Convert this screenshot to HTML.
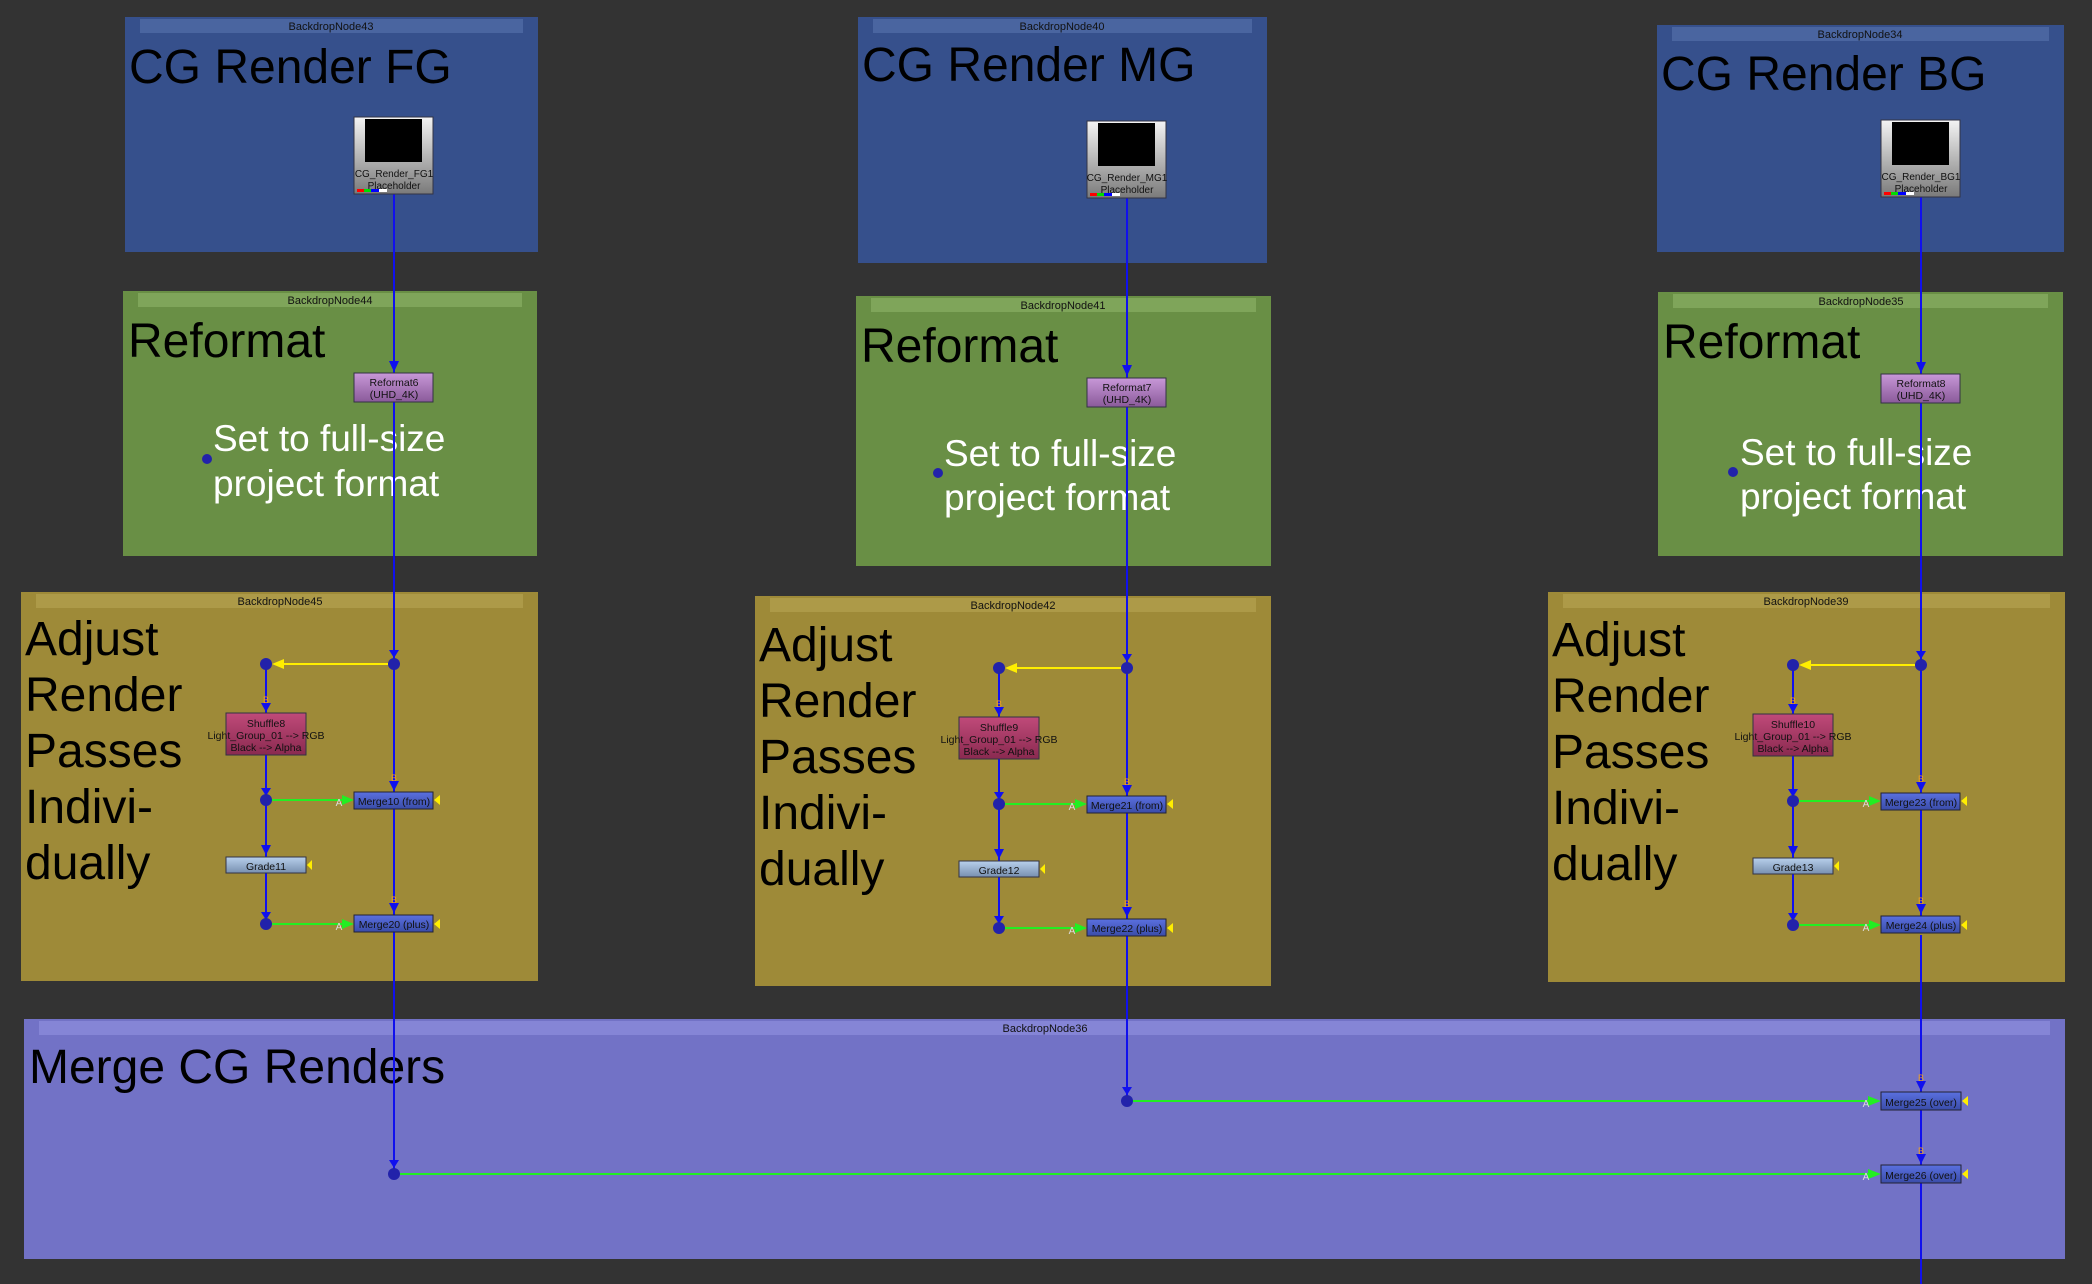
<!DOCTYPE html>
<html><head><meta charset="utf-8"><style>
html,body{margin:0;padding:0;background:#333333;}
svg{display:block;}
text{font-family:"Liberation Sans","DejaVu Sans",sans-serif;}
.hd{font-size:11px;fill:#111;text-anchor:middle;}
.big{font-size:48px;fill:#000;}
.wt{font-size:37px;fill:#fff;}
.nt{font-size:10.5px;fill:#111;text-anchor:middle;}
.bl{font-size:9px;fill:#f0a020;text-anchor:middle;}
.al{font-size:10px;fill:#ddd;text-anchor:middle;}
</style></head><body>
<svg width="2092" height="1284" viewBox="0 0 2092 1284" xmlns="http://www.w3.org/2000/svg">
<defs>
<linearGradient id="gRead" x1="0" y1="0" x2="0" y2="1"><stop offset="0" stop-color="#f4f4f4"/><stop offset="1" stop-color="#7a7a7a"/></linearGradient>
<linearGradient id="gRef" x1="0" y1="0" x2="0" y2="1"><stop offset="0" stop-color="#c898d8"/><stop offset="1" stop-color="#8a5a9a"/></linearGradient>
<linearGradient id="gShuf" x1="0" y1="0" x2="0" y2="1"><stop offset="0" stop-color="#c04a7a"/><stop offset="1" stop-color="#8a2a50"/></linearGradient>
<linearGradient id="gGrade" x1="0" y1="0" x2="0" y2="1"><stop offset="0" stop-color="#b8d0ec"/><stop offset="1" stop-color="#7890b0"/></linearGradient>
<linearGradient id="gMerge" x1="0" y1="0" x2="0" y2="1"><stop offset="0" stop-color="#5a70e0"/><stop offset="1" stop-color="#3a4ca8"/></linearGradient>
</defs>

<!-- Backdrops -->
<!-- col1 -->
<rect x="125" y="17" width="413" height="235" fill="#36508c"/><rect x="140" y="19" width="383" height="14" fill="#4a65a0"/><text class="hd" x="331" y="30">BackdropNode43</text>
<rect x="123" y="291" width="414" height="265" fill="#698f45"/><rect x="138" y="293" width="384" height="14" fill="#7fa55a"/><text class="hd" x="330" y="304">BackdropNode44</text>
<rect x="21" y="592" width="517" height="389" fill="#9e8a38"/><rect x="36" y="594" width="487" height="14" fill="#ad9a48"/><text class="hd" x="280" y="605">BackdropNode45</text>
<!-- col2 -->
<rect x="858" y="17" width="409" height="246" fill="#36508c"/><rect x="873" y="19" width="379" height="14" fill="#4a65a0"/><text class="hd" x="1062" y="30">BackdropNode40</text>
<rect x="856" y="296" width="415" height="270" fill="#698f45"/><rect x="871" y="298" width="385" height="14" fill="#7fa55a"/><text class="hd" x="1063" y="309">BackdropNode41</text>
<rect x="755" y="596" width="516" height="390" fill="#9e8a38"/><rect x="770" y="598" width="486" height="14" fill="#ad9a48"/><text class="hd" x="1013" y="609">BackdropNode42</text>
<!-- col3 -->
<rect x="1657" y="25" width="407" height="227" fill="#36508c"/><rect x="1672" y="27" width="377" height="14" fill="#4a65a0"/><text class="hd" x="1860" y="38">BackdropNode34</text>
<rect x="1658" y="292" width="405" height="264" fill="#698f45"/><rect x="1673" y="294" width="375" height="14" fill="#7fa55a"/><text class="hd" x="1861" y="305">BackdropNode35</text>
<rect x="1548" y="592" width="517" height="390" fill="#9e8a38"/><rect x="1563" y="594" width="487" height="14" fill="#ad9a48"/><text class="hd" x="1806" y="605">BackdropNode39</text>
<!-- merge backdrop -->
<rect x="24" y="1019" width="2041" height="240" fill="#7272c6"/><rect x="39" y="1021" width="2011" height="14" fill="#8585d6"/><text class="hd" x="1045" y="1032">BackdropNode36</text>

<!-- big titles -->
<text class="big" x="129" y="83">CG Render FG</text>
<text class="big" x="862" y="81">CG Render MG</text>
<text class="big" x="1661" y="90">CG Render BG</text>
<text class="big" x="128" y="357">Reformat</text>
<text class="big" x="861" y="362">Reformat</text>
<text class="big" x="1663" y="358">Reformat</text>
<text class="wt" x="213" y="451">Set to full-size</text><text class="wt" x="213" y="496">project format</text>
<text class="wt" x="944" y="466">Set to full-size</text><text class="wt" x="944" y="510">project format</text>
<text class="wt" x="1740" y="465">Set to full-size</text><text class="wt" x="1740" y="509">project format</text>
<circle cx="207" cy="459" r="5" fill="#2222aa"/>
<circle cx="938" cy="473" r="5" fill="#2222aa"/>
<circle cx="1733" cy="472" r="5" fill="#2222aa"/>
<g class="big">
<text class="big" x="25" y="655">Adjust</text><text class="big" x="25" y="711">Render</text><text class="big" x="25" y="767">Passes</text><text class="big" x="25" y="823">Indivi-</text><text class="big" x="25" y="879">dually</text>
<text class="big" x="759" y="661">Adjust</text><text class="big" x="759" y="717">Render</text><text class="big" x="759" y="773">Passes</text><text class="big" x="759" y="829">Indivi-</text><text class="big" x="759" y="885">dually</text>
<text class="big" x="1552" y="656">Adjust</text><text class="big" x="1552" y="712">Render</text><text class="big" x="1552" y="768">Passes</text><text class="big" x="1552" y="824">Indivi-</text><text class="big" x="1552" y="880">dually</text>
</g>
<text class="big" x="29" y="1083">Merge CG Renders</text>

<!-- bottom long connections -->
<line x1="394" y1="932" x2="394" y2="1174" stroke="#1010ee" stroke-width="2"/>
<line x1="1127" y1="936" x2="1127" y2="1101" stroke="#1010ee" stroke-width="2"/>
<polygon points="389,1160 399,1160 394,1168" fill="#1010ee"/>
<polygon points="1122,1087 1132,1087 1127,1095" fill="#1010ee"/>
<circle cx="394" cy="1174" r="6" fill="#2222aa"/>
<circle cx="1127" cy="1101" r="6" fill="#2222aa"/>
<line x1="400" y1="1174" x2="1870" y2="1174" stroke="#22ee22" stroke-width="2"/>
<line x1="1133" y1="1101" x2="1870" y2="1101" stroke="#22ee22" stroke-width="2"/>
<polygon points="1868,1169 1881,1174 1868,1179" fill="#22ee22"/>
<polygon points="1868,1096 1881,1101 1868,1106" fill="#22ee22"/>
<text class="al" x="1866" y="1107">A</text><text class="al" x="1866" y="1180">A</text>
<line x1="1921" y1="935" x2="1921" y2="1284" stroke="#1010ee" stroke-width="2"/>
<polygon points="1916,1081 1926,1081 1921,1091" fill="#1010ee"/><text class="bl" x="1921" y="1081">B</text>
<polygon points="1916,1154 1926,1154 1921,1164" fill="#1010ee"/><text class="bl" x="1921" y="1154">B</text>
<rect x="1881" y="1092" width="80" height="18" fill="url(#gMerge)" stroke="#223" stroke-width="1"/><text class="nt" x="1921" y="1106">Merge25 (over)</text>
<rect x="1881" y="1165" width="80" height="18" fill="url(#gMerge)" stroke="#223" stroke-width="1"/><text class="nt" x="1921" y="1179">Merge26 (over)</text>
<polygon points="1962,1101 1968,1096 1968,1106" fill="#ffee00"/>
<polygon points="1962,1174 1968,1169 1968,1179" fill="#ffee00"/>

<!-- column template -->
<g id="col1">
<line x1="394" y1="194" x2="394" y2="932" stroke="#1010ee" stroke-width="2"/>
<polygon points="389,361 399,361 394,372" fill="#1010ee"/>
<polygon points="389,650 399,650 394,658" fill="#1010ee"/>
<rect x="354" y="117" width="79" height="77" fill="url(#gRead)" stroke="#334" stroke-width="1"/>
<rect x="365" y="119" width="57" height="43" fill="#000"/>
<text class="nt" x="394" y="177" style="font-size:10px">CG_Render_FG1</text>
<text class="nt" x="394" y="189" style="font-size:10px">Placeholder</text>
<rect x="357" y="189" width="7" height="3" fill="#f00"/><rect x="364" y="189" width="7" height="3" fill="#0d0"/><rect x="371" y="189" width="8" height="3" fill="#00f"/><rect x="379" y="189" width="8" height="3" fill="#fff"/>
<rect x="354" y="373" width="79" height="29" fill="url(#gRef)" stroke="#334" stroke-width="1"/>
<text class="nt" x="394" y="386">Reformat6</text><text class="nt" x="394" y="398">(UHD_4K)</text>
<!-- adjust -->
<line x1="388" y1="664" x2="276" y2="664" stroke="#ffee00" stroke-width="2"/>
<polygon points="272,664 284,659 284,669" fill="#ffee00"/>
<line x1="266" y1="664" x2="266" y2="924" stroke="#1010ee" stroke-width="2"/>
<polygon points="261,703 271,703 266,712" fill="#1010ee"/><text class="bl" x="266" y="703">B</text>
<polygon points="261,788 271,788 266,796" fill="#1010ee"/>
<polygon points="261,845 271,845 266,855" fill="#1010ee"/>
<polygon points="261,912 271,912 266,920" fill="#1010ee"/>
<polygon points="389,781 399,781 394,791" fill="#1010ee"/><text class="bl" x="394" y="781">B</text>
<polygon points="389,903 399,903 394,913" fill="#1010ee"/><text class="bl" x="394" y="903">B</text>
<circle cx="266" cy="664" r="6" fill="#2222aa"/><circle cx="394" cy="664" r="6" fill="#2222aa"/>
<circle cx="266" cy="800" r="6" fill="#2222aa"/><circle cx="266" cy="924" r="6" fill="#2222aa"/>
<rect x="226" y="713" width="80" height="42" fill="url(#gShuf)" stroke="#334" stroke-width="1"/>
<text class="nt" x="266" y="727">Shuffle8</text>
<text class="nt" x="266" y="739">Light_Group_01 --&gt; RGB</text>
<text class="nt" x="266" y="751">Black --&gt; Alpha</text>
<rect x="226" y="857" width="80" height="16" fill="url(#gGrade)" stroke="#334" stroke-width="1"/><text class="nt" x="266" y="870">Grade11</text>
<polygon points="307,865 312,860 312,870" fill="#ffee00"/>
<line x1="272" y1="800" x2="344" y2="800" stroke="#22ee22" stroke-width="2"/><polygon points="342,795 354,800 342,805" fill="#22ee22"/><text class="al" x="339" y="806">A</text>
<line x1="272" y1="924" x2="344" y2="924" stroke="#22ee22" stroke-width="2"/><polygon points="342,919 354,924 342,929" fill="#22ee22"/><text class="al" x="339" y="930">A</text>
<rect x="354" y="792" width="79" height="17" fill="url(#gMerge)" stroke="#223" stroke-width="1"/><text class="nt" x="394" y="805">Merge10 (from)</text>
<rect x="354" y="915" width="79" height="17" fill="url(#gMerge)" stroke="#223" stroke-width="1"/><text class="nt" x="394" y="928">Merge20 (plus)</text>
<polygon points="434,800 440,795 440,805" fill="#ffee00"/>
<polygon points="434,924 440,919 440,929" fill="#ffee00"/>
</g>

<!-- col2 -->
<g transform="translate(733,4)">
<line x1="394" y1="194" x2="394" y2="932" stroke="#1010ee" stroke-width="2"/>
<polygon points="389,361 399,361 394,372" fill="#1010ee"/>
<polygon points="389,650 399,650 394,658" fill="#1010ee"/>
<rect x="354" y="117" width="79" height="77" fill="url(#gRead)" stroke="#334" stroke-width="1"/>
<rect x="365" y="119" width="57" height="43" fill="#000"/>
<text class="nt" x="394" y="177" style="font-size:10px">CG_Render_MG1</text>
<text class="nt" x="394" y="189" style="font-size:10px">Placeholder</text>
<rect x="357" y="189" width="7" height="3" fill="#f00"/><rect x="364" y="189" width="7" height="3" fill="#0d0"/><rect x="371" y="189" width="8" height="3" fill="#00f"/><rect x="379" y="189" width="8" height="3" fill="#fff"/>
<rect x="354" y="374" width="79" height="29" fill="url(#gRef)" stroke="#334" stroke-width="1"/>
<text class="nt" x="394" y="387">Reformat7</text><text class="nt" x="394" y="399">(UHD_4K)</text>
<line x1="388" y1="664" x2="276" y2="664" stroke="#ffee00" stroke-width="2"/>
<polygon points="272,664 284,659 284,669" fill="#ffee00"/>
<line x1="266" y1="664" x2="266" y2="924" stroke="#1010ee" stroke-width="2"/>
<polygon points="261,703 271,703 266,712" fill="#1010ee"/><text class="bl" x="266" y="703">B</text>
<polygon points="261,788 271,788 266,796" fill="#1010ee"/>
<polygon points="261,845 271,845 266,855" fill="#1010ee"/>
<polygon points="261,912 271,912 266,920" fill="#1010ee"/>
<polygon points="389,781 399,781 394,791" fill="#1010ee"/><text class="bl" x="394" y="781">B</text>
<polygon points="389,903 399,903 394,913" fill="#1010ee"/><text class="bl" x="394" y="903">B</text>
<circle cx="266" cy="664" r="6" fill="#2222aa"/><circle cx="394" cy="664" r="6" fill="#2222aa"/>
<circle cx="266" cy="800" r="6" fill="#2222aa"/><circle cx="266" cy="924" r="6" fill="#2222aa"/>
<rect x="226" y="713" width="80" height="42" fill="url(#gShuf)" stroke="#334" stroke-width="1"/>
<text class="nt" x="266" y="727">Shuffle9</text>
<text class="nt" x="266" y="739">Light_Group_01 --&gt; RGB</text>
<text class="nt" x="266" y="751">Black --&gt; Alpha</text>
<rect x="226" y="857" width="80" height="16" fill="url(#gGrade)" stroke="#334" stroke-width="1"/><text class="nt" x="266" y="870">Grade12</text>
<polygon points="307,865 312,860 312,870" fill="#ffee00"/>
<line x1="272" y1="800" x2="344" y2="800" stroke="#22ee22" stroke-width="2"/><polygon points="342,795 354,800 342,805" fill="#22ee22"/><text class="al" x="339" y="806">A</text>
<line x1="272" y1="924" x2="344" y2="924" stroke="#22ee22" stroke-width="2"/><polygon points="342,919 354,924 342,929" fill="#22ee22"/><text class="al" x="339" y="930">A</text>
<rect x="354" y="792" width="79" height="17" fill="url(#gMerge)" stroke="#223" stroke-width="1"/><text class="nt" x="394" y="805">Merge21 (from)</text>
<rect x="354" y="915" width="79" height="17" fill="url(#gMerge)" stroke="#223" stroke-width="1"/><text class="nt" x="394" y="928">Merge22 (plus)</text>
<polygon points="434,800 440,795 440,805" fill="#ffee00"/>
<polygon points="434,924 440,919 440,929" fill="#ffee00"/>
</g>

<!-- col3 -->
<g transform="translate(1527,1)">
<line x1="394" y1="194" x2="394" y2="932" stroke="#1010ee" stroke-width="2"/>
<polygon points="389,361 399,361 394,372" fill="#1010ee"/>
<polygon points="389,650 399,650 394,658" fill="#1010ee"/>
<rect x="354" y="119" width="79" height="77" fill="url(#gRead)" stroke="#334" stroke-width="1"/>
<rect x="365" y="121" width="57" height="43" fill="#000"/>
<text class="nt" x="394" y="179" style="font-size:10px">CG_Render_BG1</text>
<text class="nt" x="394" y="191" style="font-size:10px">Placeholder</text>
<rect x="357" y="191" width="7" height="3" fill="#f00"/><rect x="364" y="191" width="7" height="3" fill="#0d0"/><rect x="371" y="191" width="8" height="3" fill="#00f"/><rect x="379" y="191" width="8" height="3" fill="#fff"/>
<rect x="354" y="373" width="79" height="29" fill="url(#gRef)" stroke="#334" stroke-width="1"/>
<text class="nt" x="394" y="386">Reformat8</text><text class="nt" x="394" y="398">(UHD_4K)</text>
<line x1="388" y1="664" x2="276" y2="664" stroke="#ffee00" stroke-width="2"/>
<polygon points="272,664 284,659 284,669" fill="#ffee00"/>
<line x1="266" y1="664" x2="266" y2="924" stroke="#1010ee" stroke-width="2"/>
<polygon points="261,703 271,703 266,712" fill="#1010ee"/><text class="bl" x="266" y="703">B</text>
<polygon points="261,788 271,788 266,796" fill="#1010ee"/>
<polygon points="261,845 271,845 266,855" fill="#1010ee"/>
<polygon points="261,912 271,912 266,920" fill="#1010ee"/>
<polygon points="389,781 399,781 394,791" fill="#1010ee"/><text class="bl" x="394" y="781">B</text>
<polygon points="389,903 399,903 394,913" fill="#1010ee"/><text class="bl" x="394" y="903">B</text>
<circle cx="266" cy="664" r="6" fill="#2222aa"/><circle cx="394" cy="664" r="6" fill="#2222aa"/>
<circle cx="266" cy="800" r="6" fill="#2222aa"/><circle cx="266" cy="924" r="6" fill="#2222aa"/>
<rect x="226" y="713" width="80" height="42" fill="url(#gShuf)" stroke="#334" stroke-width="1"/>
<text class="nt" x="266" y="727">Shuffle10</text>
<text class="nt" x="266" y="739">Light_Group_01 --&gt; RGB</text>
<text class="nt" x="266" y="751">Black --&gt; Alpha</text>
<rect x="226" y="857" width="80" height="16" fill="url(#gGrade)" stroke="#334" stroke-width="1"/><text class="nt" x="266" y="870">Grade13</text>
<polygon points="307,865 312,860 312,870" fill="#ffee00"/>
<line x1="272" y1="800" x2="344" y2="800" stroke="#22ee22" stroke-width="2"/><polygon points="342,795 354,800 342,805" fill="#22ee22"/><text class="al" x="339" y="806">A</text>
<line x1="272" y1="924" x2="344" y2="924" stroke="#22ee22" stroke-width="2"/><polygon points="342,919 354,924 342,929" fill="#22ee22"/><text class="al" x="339" y="930">A</text>
<rect x="354" y="792" width="79" height="17" fill="url(#gMerge)" stroke="#223" stroke-width="1"/><text class="nt" x="394" y="805">Merge23 (from)</text>
<rect x="354" y="915" width="79" height="17" fill="url(#gMerge)" stroke="#223" stroke-width="1"/><text class="nt" x="394" y="928">Merge24 (plus)</text>
<polygon points="434,800 440,795 440,805" fill="#ffee00"/>
<polygon points="434,924 440,919 440,929" fill="#ffee00"/>
</g>
</svg>
</body></html>
